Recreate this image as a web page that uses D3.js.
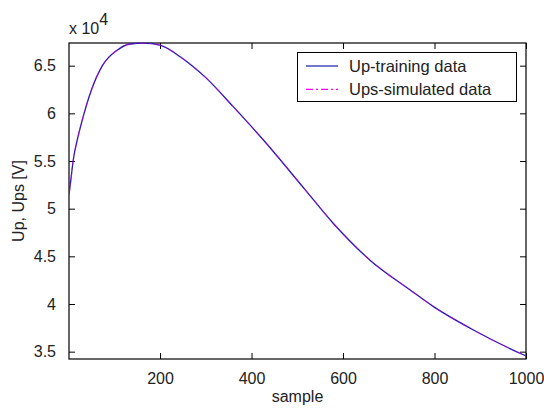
<!DOCTYPE html>
<html>
<head>
<meta charset="utf-8">
<script src="https://cdn.jsdelivr.net/npm/d3@7"></script>
<style>
    body { margin: 0; background: #fff; }
    text { font-family: "Liberation Sans", Arial, sans-serif; fill: #222; }
</style>
</head>
<body>
<div id="chart"></div>
<script>
/*
    Chart values
*/
var samples = [1, 5, 10, 21, 34, 50, 74, 107, 132, 165, 200, 244, 270, 300, 360, 426, 517, 578, 659, 746, 797, 884, 993, 1000];
var upTraining = [51500, 53000, 55000, 57600, 60000, 62450, 65000, 66650, 67250, 67370, 67150, 65940, 65000, 63750, 60700, 57200, 52000, 48500, 44600, 41500, 39750, 37300, 34700, 34550];
var upsSimulated = [51400, 53000, 55000, 57600, 60000, 62450, 65000, 66650, 67250, 67370, 67150, 65940, 65000, 63750, 60700, 57200, 52000, 48500, 44600, 41500, 39750, 37300, 34700, 34550];

var xTicks = [200, 400, 600, 800, 1000];
var yTicks = [35000, 40000, 45000, 50000, 55000, 60000, 65000];
var legendNames = ["Up-training data", "Ups-simulated data"];

var width = 544;
var height = 408;
var margin = { top: 43, right: 18, bottom: 49, left: 69 };

var svg = d3.select("#chart")
    .append("svg")
    .attr("width", width)
    .attr("height", height);

var x = d3.scaleLinear()
    .domain([1, 1000])
    .range([margin.left, width - margin.right]);

var y = d3.scaleLinear()
    .domain([34230, 67380])
    .range([height - margin.bottom, margin.top]);

var line = d3.line()
    .x(function (d) { return x(d[0]); })
    .y(function (d) { return y(d[1]); })
    .curve(d3.curveMonotoneX);

// axes, ticks pointing inward, mirrored on top and right (matlab box)
var fmtY = function (d) { return String(d / 10000); };

svg.append("g")
    .attr("transform", "translate(0," + (height - margin.bottom) + ")")
    .call(d3.axisBottom(x).tickValues(xTicks).tickSizeInner(-6).tickSizeOuter(0).tickPadding(14).tickFormat(d3.format("d")));
svg.append("g")
    .attr("transform", "translate(0," + margin.top + ")")
    .call(d3.axisTop(x).tickValues(xTicks).tickSizeInner(-6).tickSizeOuter(0).tickFormat(""));
svg.append("g")
    .attr("transform", "translate(" + margin.left + ",0)")
    .call(d3.axisLeft(y).tickValues(yTicks).tickSizeInner(-6).tickSizeOuter(0).tickPadding(13).tickFormat(fmtY));
svg.append("g")
    .attr("transform", "translate(" + (width - margin.right) + ",0)")
    .call(d3.axisRight(y).tickValues(yTicks).tickSizeInner(-6).tickSizeOuter(0).tickFormat(""));

svg.selectAll(".domain").remove();
svg.selectAll(".tick line").attr("stroke", "#000");
svg.selectAll(".tick text")
    .style("font-size", "16px")
    .style("font-family", "'Liberation Sans', Arial, sans-serif")
    .attr("fill", "#222");

svg.append("rect")
    .attr("x", margin.left)
    .attr("y", margin.top)
    .attr("width", width - margin.left - margin.right)
    .attr("height", height - margin.top - margin.bottom)
    .attr("fill", "none")
    .attr("stroke", "#000")
    .attr("stroke-width", 1.2);

// the two series
var series = [
    { name: legendNames[0], values: d3.zip(samples, upTraining), color: "#1a1aa8", dash: null },
    { name: legendNames[1], values: d3.zip(samples, upsSimulated), color: "#ff00ff", dash: "7,3,2,3" }
];

svg.append("defs").append("clipPath").attr("id", "clip")
    .append("rect")
    .attr("x", margin.left).attr("y", margin.top - 1)
    .attr("width", width - margin.left - margin.right)
    .attr("height", height - margin.top - margin.bottom + 1);

svg.selectAll(".series")
    .data(series)
    .enter().append("path")
    .attr("class", "series")
    .attr("clip-path", "url(#clip)")
    .attr("d", function (d) { return line(d.values); })
    .attr("fill", "none")
    .attr("stroke", function (d) { return d.color; })
    .attr("stroke-width", function (d, i) { return i == 0 ? 1.3 : 1.4; })
    .attr("stroke-opacity", function (d, i) { return i == 0 ? 1 : 0.4; })
    .attr("stroke-dasharray", function (d) { return d.dash; });

// exponent label
var expo = svg.append("text")
    .attr("x", 69)
    .attr("y", 34)
    .style("font-size", "16px");
expo.append("tspan").text("x 10");
expo.append("tspan").attr("dy", -9).text("4");

// axis labels
svg.append("text")
    .attr("x", (margin.left + width - margin.right) / 2)
    .attr("y", 402)
    .attr("text-anchor", "middle")
    .style("font-size", "16px")
    .text("sample");

svg.append("text")
    .attr("transform", "translate(24," + ((margin.top + height - margin.bottom) / 2) + ") rotate(-90)")
    .attr("text-anchor", "middle")
    .style("font-size", "16px")
    .text("Up, Ups [V]");

// legend
var legend = svg.append("g");
legend.append("rect")
    .attr("x", 297.5).attr("y", 52.5)
    .attr("width", 219).attr("height", 49)
    .attr("fill", "#fff")
    .attr("stroke", "#000");

var rows = legend.selectAll(".row")
    .data(series)
    .enter().append("g")
    .attr("class", "row")
    .attr("transform", function (d, i) { return "translate(0," + (66 + i * 23.3) + ")"; });

rows.append("line")
    .attr("x1", 306).attr("x2", 338)
    .attr("stroke", function (d) { return d.color; })
    .attr("stroke-width", 1.2)
    .attr("stroke-dasharray", function (d) { return d.dash; });

rows.append("text")
    .attr("x", 349)
    .attr("dy", "0.36em")
    .style("font-size", "16.5px")
    .text(function (d) { return d.name; });
</script>
</body>
</html>
